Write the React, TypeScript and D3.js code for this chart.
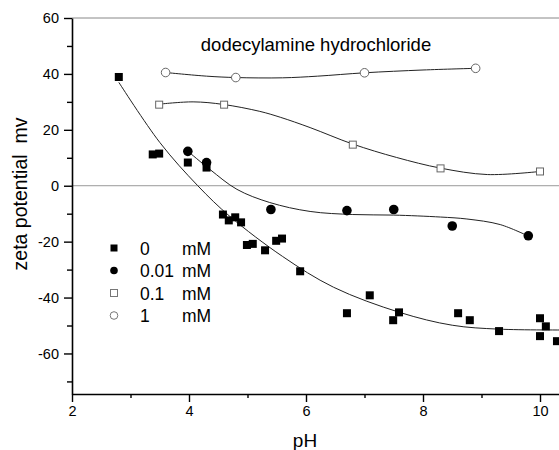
import * as d3 from 'd3';
import { useEffect, useRef } from 'react';

// axis ticks
const phTicks = [2, 4, 6, 8, 10];
const phMinor = [3, 5, 7, 9];
const zetaTicks = [-60, -40, -20, 0, 20, 40, 60];
const zetaMinor = [-70, -50, -30, -10, 10, 30, 50];

// measured points (pH, zeta potential mV)
const ph0 = [2.8, 3.38, 3.49, 3.98, 4.3, 4.58, 4.68, 4.79, 4.89, 4.99, 5.09, 5.3, 5.49, 5.59, 5.9, 6.7, 7.09, 7.49, 7.59, 8.6, 8.8, 9.3, 10.0, 10.1, 10.0, 10.29];
const zeta0 = [38.9, 11.2, 11.5, 8.3, 6.5, -10.3, -12.4, -11.3, -13.1, -21.2, -20.8, -23.1, -19.7, -18.9, -30.6, -45.6, -39.2, -48.1, -45.3, -45.6, -48.1, -52.0, -47.4, -50.3, -53.8, -55.6];

const ph001 = [3.98, 4.3, 5.4, 6.7, 7.5, 8.5, 9.8];
const zeta001 = [12.3, 8.3, -8.5, -8.9, -8.5, -14.4, -17.9];

const ph01 = [3.49, 4.6, 6.8, 8.3, 10.0];
const zeta01 = [29.0, 29.0, 14.7, 6.2, 5.1];

const ph1 = [3.6, 4.8, 7.0, 8.9];
const zeta1 = [40.5, 38.7, 40.4, 42.0];

// fitted curves
const fitPh0 = [2.8, 3.5, 4.15, 4.7, 5.6, 6.47, 7.6, 8.5, 9.3, 10.5];
const fitZeta0 = [37, 15.5, 0, -11, -25.3, -36.3, -45.3, -49.9, -51.3, -51.6];

const fitPh001 = [4.0, 4.36, 4.82, 5.38, 6.07, 6.8, 7.5, 8.3, 8.75, 9.32, 9.8];
const fitZeta001 = [12, 5.8, -1.3, -6, -9.2, -10.3, -10.5, -11.2, -11.9, -13.9, -18];

const fitPh01 = [3.5, 4.07, 4.58, 5.21, 5.56, 6.07, 6.8, 7.55, 8.3, 9.1, 10.0];
const fitZeta01 = [29.2, 30, 29.1, 26.6, 24.5, 20.8, 14.9, 10.1, 6.3, 4.0, 5.1];

const fitPh1 = [3.6, 4.3, 4.8, 5.6, 6.2, 7.0, 8.0, 8.9];
const fitZeta1 = [40.5, 39.2, 38.7, 38.6, 39.2, 40.4, 41.4, 42.0];

const legendLabels = ['0', '0.01', '0.1', '1'];

const FONT = 'Liberation Sans, Arial, sans-serif';

function Chart() {
    const ref = useRef<SVGSVGElement>(null);

    useEffect(() => {
        const svg = d3.select(ref.current);
        svg.selectAll('*').remove();

        const x = d3.scaleLinear().domain([2, 10.5]).range([72, 569.25]);
        const y = d3.scaleLinear().domain([-74.5, 60]).range([394, 18]);

        // top frame and zero line
        svg.append('line')
            .attr('x1', x(2)).attr('x2', 559)
            .attr('y1', y(60)).attr('y2', y(60))
            .attr('stroke', '#888').attr('stroke-width', 1);
        svg.append('line')
            .attr('x1', x(2)).attr('x2', 559)
            .attr('y1', y(0)).attr('y2', y(0))
            .attr('stroke', '#999').attr('stroke-width', 1);

        // x axis
        const gx = svg.append('g').attr('transform', `translate(0,${y(-74.5)})`);
        gx.call(d3.axisBottom(x).tickValues(phTicks).tickSize(8).tickPadding(4).tickSizeOuter(0).tickFormat(d => String(d)));
        gx.append('g').call(d3.axisBottom(x).tickValues(phMinor).tickSize(4).tickFormat(() => '').tickSizeOuter(0))
            .select('.domain').remove();

        // y axis
        const gy = svg.append('g').attr('transform', `translate(${x(2)},0)`);
        gy.call(d3.axisLeft(y).tickValues(zetaTicks).tickSize(8).tickPadding(5).tickSizeOuter(0).tickFormat(d => String(d)));
        gy.append('g').call(d3.axisLeft(y).tickValues(zetaMinor).tickSize(5).tickFormat(() => '').tickSizeOuter(0))
            .select('.domain').remove();

        svg.selectAll('.domain').attr('stroke', '#000').attr('stroke-width', 1.6);
        svg.selectAll('.tick line').attr('stroke', '#000').attr('stroke-width', 1.4);
        svg.selectAll('.tick text')
            .attr('font-family', FONT).attr('font-size', 14.5).attr('fill', '#000');

        // curves
        const line = d3.line<[number, number]>()
            .x(d => x(d[0]))
            .y(d => y(d[1]))
            .curve(d3.curveCatmullRom.alpha(0.5));

        const fits: [number[], number[]][] = [
            [fitPh0, fitZeta0],
            [fitPh001, fitZeta001],
            [fitPh01, fitZeta01],
            [fitPh1, fitZeta1],
        ];
        fits.forEach(([px, pz]) => {
            svg.append('path')
                .datum(px.map((v, i) => [v, pz[i]] as [number, number]))
                .attr('fill', 'none')
                .attr('stroke', '#222')
                .attr('stroke-width', 1)
                .attr('d', line);
        });

        // markers
        const sq = 8;
        svg.append('g').selectAll('rect')
            .data(ph0.map((v, i) => [v, zeta0[i]]))
            .join('rect')
            .attr('x', d => x(d[0]) - sq / 2)
            .attr('y', d => y(d[1]) - sq / 2)
            .attr('width', sq).attr('height', sq)
            .attr('fill', '#000');

        svg.append('g').selectAll('circle')
            .data(ph001.map((v, i) => [v, zeta001[i]]))
            .join('circle')
            .attr('cx', d => x(d[0]))
            .attr('cy', d => y(d[1]))
            .attr('r', 4.8)
            .attr('fill', '#000');

        const osq = 7;
        svg.append('g').selectAll('rect')
            .data(ph01.map((v, i) => [v, zeta01[i]]))
            .join('rect')
            .attr('x', d => x(d[0]) - osq / 2)
            .attr('y', d => y(d[1]) - osq / 2)
            .attr('width', osq).attr('height', osq)
            .attr('fill', '#fff')
            .attr('stroke', '#666').attr('stroke-width', 1);

        svg.append('g').selectAll('circle')
            .data(ph1.map((v, i) => [v, zeta1[i]]))
            .join('circle')
            .attr('cx', d => x(d[0]))
            .attr('cy', d => y(d[1]))
            .attr('r', 4.3)
            .attr('fill', '#fff')
            .attr('stroke', '#666').attr('stroke-width', 1);

        // legend
        const lg = svg.append('g');
        legendLabels.forEach((lab, i) => {
            const cy = 248 + i * 22.5;
            const mx = 114;
            if (i === 0) {
                lg.append('rect').attr('x', mx - 3.5).attr('y', cy - 3.5).attr('width', 7).attr('height', 7).attr('fill', '#000');
            } else if (i === 1) {
                lg.append('circle').attr('cx', mx).attr('cy', cy).attr('r', 3.8).attr('fill', '#000');
            } else if (i === 2) {
                lg.append('rect').attr('x', mx - 3.5).attr('y', cy - 3.5).attr('width', 7).attr('height', 7)
                    .attr('fill', '#fff').attr('stroke', '#777').attr('stroke-width', 1);
            } else {
                lg.append('circle').attr('cx', mx).attr('cy', cy).attr('r', 3.8)
                    .attr('fill', '#fff').attr('stroke', '#777').attr('stroke-width', 1);
            }
            lg.append('text').attr('x', 140).attr('y', cy + 6.5)
                .attr('font-family', FONT).attr('font-size', 17.5).text(lab);
            lg.append('text').attr('x', 182).attr('y', cy + 6.5)
                .attr('font-family', FONT).attr('font-size', 17.5).text('mM');
        });

        // title and axis labels
        svg.append('text')
            .attr('x', 316).attr('y', 51)
            .attr('text-anchor', 'middle')
            .attr('font-family', FONT).attr('font-size', 18.5)
            .text('dodecylamine hydrochloride');

        svg.append('text')
            .attr('x', 305).attr('y', 447)
            .attr('text-anchor', 'middle')
            .attr('font-family', FONT).attr('font-size', 19)
            .text('pH');

        svg.append('text')
            .attr('transform', 'translate(27,194) rotate(-90)')
            .attr('text-anchor', 'middle')
            .attr('font-family', FONT).attr('font-size', 19.5)
            .attr('xml:space', 'preserve')
            .style('white-space', 'pre')
            .text('zeta potential  mv');
    }, []);

    return (
        <svg
            ref={ref}
            width={559}
            height={450}
            style={{ position: 'absolute', left: 0, top: 0, background: '#fff' }}
        />
    );
}

export default function App() {
    return <Chart />;
}
